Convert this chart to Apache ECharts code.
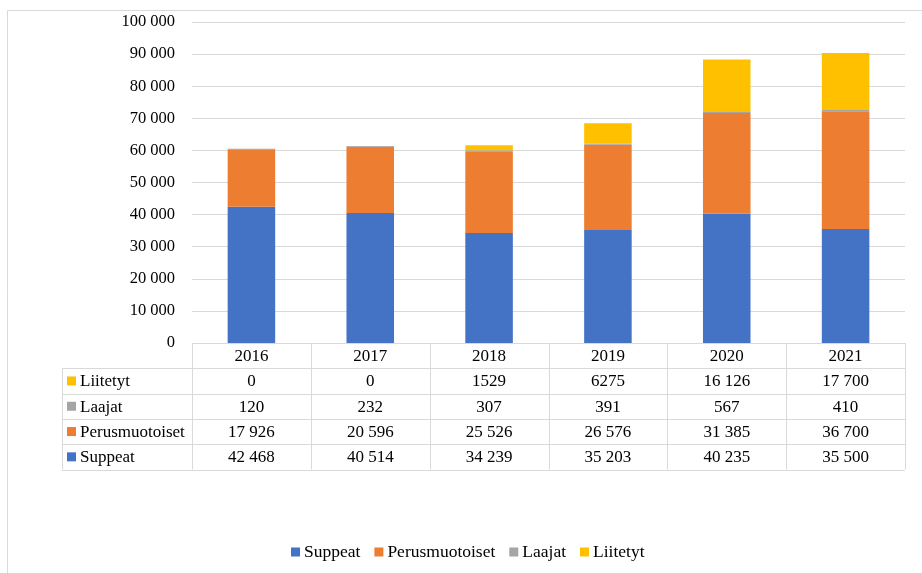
<!DOCTYPE html>
<html><head><meta charset="utf-8">
<script src="https://cdn.jsdelivr.net/npm/echarts@6/dist/echarts.min.js"></script>
<style>html,body{margin:0;padding:0;background:#fff}#c{width:922px;height:573px}</style>
</head><body><div id="c"></div>
<script>
const years = ['2016', '2017', '2018', '2019', '2020', '2021'];
const suppeat = [42468, 40514, 34239, 35203, 40235, 35500];
const perusmuotoiset = [17926, 20596, 25526, 26576, 31385, 36700];
const laajat = [120, 232, 307, 391, 567, 410];
const liitetyt = [0, 0, 1529, 6275, 16126, 17700];
const seriesNames = ['Suppeat', 'Perusmuotoiset', 'Laajat', 'Liitetyt'];
const seriesData = [suppeat, perusmuotoiset, laajat, liitetyt];
const colors = ['#4472C4', '#ED7D31', '#A5A5A5', '#FFC000'];
const yMax = 100000;
const yInterval = 10000;

const FONT = 'Liberation Serif, serif';
const FS = 17;
const GRID_COLOR = '#d9d9d9';

function fmt(n) {
  if (n >= 10000) {
    return String(n).replace(/\B(?=(\d{3})+(?!\d))/g, ' ');
  }
  return String(n);
}

const chart = echarts.init(document.getElementById('c'), null, {renderer: 'canvas'});
chart.setOption({
  animation: false,
  color: colors,
  textStyle: {fontFamily: FONT},
  grid: {left: 192, right: 17, top: 22, bottom: 230, containLabel: false},
  legend: {
    data: seriesNames,
    bottom: 7,
    left: 286,
    icon: 'rect',
    itemWidth: 9,
    itemHeight: 9,
    itemGap: 14,
    textStyle: {fontFamily: FONT, fontSize: 17.5, color: '#000', padding: [0, 0, 0, -1]}
  },
  xAxis: {
    type: 'category',
    data: years,
    axisLine: {show: false},
    axisTick: {show: false},
    axisLabel: {show: false}
  },
  yAxis: {
    type: 'value',
    min: 0,
    max: yMax,
    interval: yInterval,
    axisLine: {show: false},
    axisTick: {show: false},
    splitLine: {lineStyle: {color: GRID_COLOR, width: 1}},
    axisLabel: {
      margin: 17,
      fontFamily: FONT,
      fontSize: 16.5,
      color: '#000',
      formatter: v => v === 0 ? '0' : String(v).replace(/\B(?=(\d{3})+(?!\d))/g, ' ')
    }
  },
  series: seriesNames.map((name, i) => ({
    name: name,
    type: 'bar',
    stack: 'total',
    barWidth: '40%',
    data: seriesData[i]
  }))
});

// Data table below the plot
function buildTable() {
  const x0 = chart.convertToPixel({xAxisIndex: 0}, 0);
  const x1 = chart.convertToPixel({xAxisIndex: 0}, 1);
  const band = x1 - x0;
  const tableLeft = x0 - band / 2;
  const tableRight = tableLeft + band * years.length;
  const top = chart.convertToPixel({yAxisIndex: 0}, 0);
  const rowH = 25.3;
  const labelLeft = 62;
  const rows = [3, 2, 1, 0]; // Liitetyt, Laajat, Perusmuotoiset, Suppeat
  const nRows = rows.length + 1;
  const bottom = top + rowH * nRows;
  const els = [];
  const lineStyle = {stroke: GRID_COLOR, lineWidth: 1};
  // outer chart border (top & left)
  els.push({type: 'line', shape: {x1: 7.5, y1: 10.5, x2: 922, y2: 10.5}, style: lineStyle, silent: true});
  els.push({type: 'line', shape: {x1: 7.5, y1: 10.5, x2: 7.5, y2: 573}, style: lineStyle, silent: true});
  // horizontal lines
  for (let r = 0; r <= nRows; r++) {
    const y = Math.round(top + r * rowH) + 0.5;
    els.push({type: 'line', shape: {x1: r === 0 ? tableLeft : labelLeft, y1: y, x2: tableRight, y2: y}, style: lineStyle, silent: true});
  }
  // vertical lines
  for (let c = 0; c <= years.length; c++) {
    const x = Math.round(tableLeft + c * band) + 0.5;
    els.push({type: 'line', shape: {x1: x, y1: top, x2: x, y2: bottom}, style: lineStyle, silent: true});
  }
  els.push({type: 'line', shape: {x1: labelLeft + 0.5, y1: top + rowH, x2: labelLeft + 0.5, y2: bottom}, style: lineStyle, silent: true});
  // header years
  years.forEach((yr, c) => {
    els.push({type: 'text', x: tableLeft + (c + 0.5) * band, y: top + rowH / 2 + 1,
      style: {text: yr, fontFamily: FONT, fontSize: FS, fill: '#000', align: 'center', verticalAlign: 'middle'}, silent: true});
  });
  rows.forEach((si, r) => {
    const cy = top + (r + 1.5) * rowH + 1;
    els.push({type: 'rect', shape: {x: labelLeft + 5, y: cy - 5.5, width: 9, height: 9}, style: {fill: colors[si]}, silent: true});
    els.push({type: 'text', x: labelLeft + 18, y: cy,
      style: {text: seriesNames[si], fontFamily: FONT, fontSize: FS, fill: '#000', align: 'left', verticalAlign: 'middle'}, silent: true});
    seriesData[si].forEach((v, c) => {
      els.push({type: 'text', x: tableLeft + (c + 0.5) * band, y: cy,
        style: {text: fmt(v), fontFamily: FONT, fontSize: FS, fill: '#000', align: 'center', verticalAlign: 'middle'}, silent: true});
    });
  });
  chart.setOption({graphic: {elements: els}});
}
buildTable();
</script>
</body></html>
